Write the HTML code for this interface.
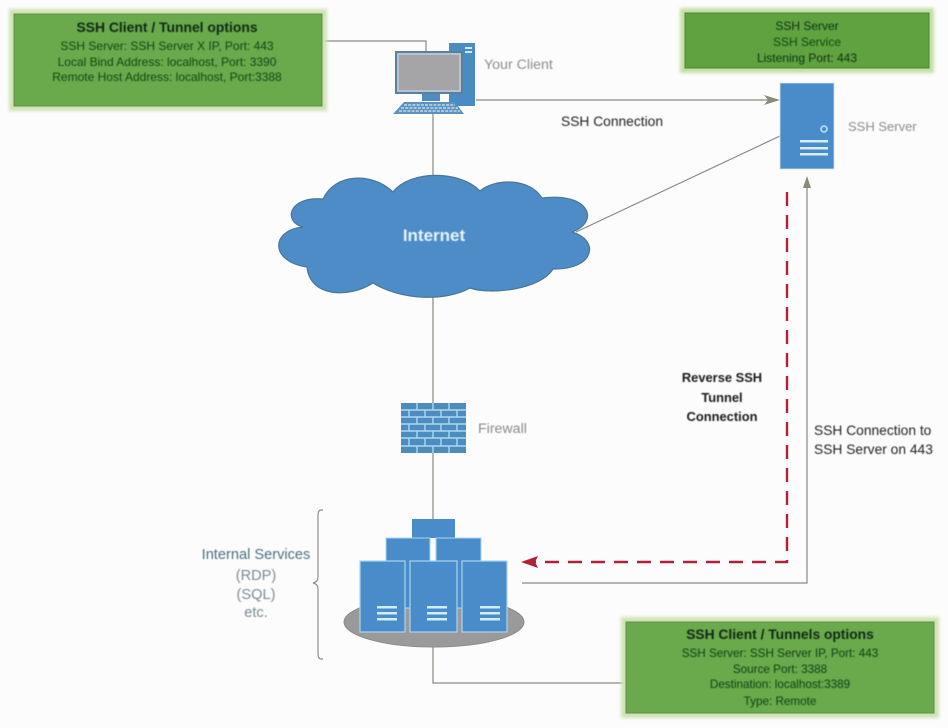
<!DOCTYPE html>
<html>
<head>
<meta charset="utf-8">
<style>
html,body{margin:0;padding:0;background:#fcfcfc;}
svg{display:block;}
text{font-family:"Liberation Sans",sans-serif;}
</style>
</head>
<body>
<svg width="948" height="728" viewBox="0 0 948 728" xmlns="http://www.w3.org/2000/svg">
<defs>
<filter id="g" x="-10%" y="-20%" width="120%" height="140%"><feGaussianBlur stdDeviation="1.6"/></filter>
<filter id="s"><feGaussianBlur stdDeviation="0.4"/></filter>
</defs>
<rect width="948" height="728" fill="#fcfcfc"/>

<!-- connectors -->
<g fill="none" stroke="#8a8a80" stroke-width="1.2">
<path d="M322 41H426V52"/>
<path d="M433 114V520"/>
<path d="M476 100H770"/>
<path d="M780 136L576 232"/>
<path d="M807 180V583H522"/>
<path d="M433 646V683H626"/>
<path d="M323 510H321Q318 510 318 516V577Q318 582 313 583Q318 584 318 589V653Q318 659 321 659H323" stroke="#8f8f8f"/>
</g>
<polygon points="780,100 764,95 768,100 764,105" fill="#8a8a78"/>
<polygon points="807,176 803,188 811,188" fill="#8a8a78"/>
<path d="M787 192V562H532" fill="none" stroke="#b0203c" stroke-width="2.4" stroke-dasharray="14 9"/>
<polygon points="521,562 538,556 535,562 538,568" fill="#b51f38"/>

<!-- green boxes -->
<g>
<rect x="9" y="9" width="318" height="102" fill="#cfe3b4" filter="url(#g)"/>
<rect x="14" y="14" width="308" height="92" fill="#6aa94c" stroke="#5f8f4a"/>
<rect x="680" y="8" width="254" height="65" fill="#c4dfa4" filter="url(#g)"/>
<rect x="685" y="13" width="244" height="55" fill="#5fa23f" stroke="#4f8436"/>
<rect x="621" y="617" width="318" height="101" fill="#cfe3b4" filter="url(#g)"/>
<rect x="626" y="622" width="308" height="91" fill="#6aa94c" stroke="#5f8f4a"/>
</g>

<g filter="url(#s)" text-anchor="middle">
<text x="167" y="32" font-size="13.9" font-weight="bold" fill="#0e2c16">SSH Client / Tunnel options</text>
<g font-size="12" fill="#124a14">
<text x="167" y="50">SSH Server: SSH Server X IP, Port: 443</text>
<text x="167" y="66">Local Bind Address: localhost, Port: 3390</text>
<text x="167" y="81">Remote Host Address: localhost, Port:3388</text>
</g>
<text x="807" y="30" font-size="12" fill="#0f3315">SSH Server</text>
<text x="807" y="46" font-size="12" fill="#124a14">SSH Service</text>
<text x="807" y="62" font-size="12" fill="#0f3315">Listening Port: 443</text>
<text x="780" y="639" font-size="13.8" font-weight="bold" fill="#0e2c16">SSH Client / Tunnels options</text>
<g font-size="11.7" fill="#124214">
<text x="780" y="657">SSH Server: SSH Server IP, Port: 443</text>
<text x="780" y="673">Source Port: 3388</text>
<text x="780" y="688">Destination: localhost:3389</text>
<text x="780" y="705">Type: Remote</text>
</g>
</g>

<!-- client -->
<rect x="449" y="43" width="26" height="63" fill="#4a8bc4"/>
<rect x="465" y="47" width="7" height="2" fill="#cfe6f5"/>
<rect x="465" y="51" width="7" height="2" fill="#cfe6f5"/>
<rect x="396" y="52" width="66" height="41" fill="#a7a9ab" stroke="#5c7f9c" stroke-width="2"/>
<rect x="398" y="54" width="62" height="37" fill="#a5a5a7" stroke="#bcd9ec" stroke-width="1.2"/>
<rect x="422" y="94" width="18" height="7" fill="#4f8cc0"/>
<polygon points="404,102 455,102 464,114 393,114" fill="#5b92bf"/>
<g stroke="#d6e9f4" stroke-width="1.3" stroke-dasharray="3 1.2">
<path d="M404 105H455"/><path d="M401 108H458"/><path d="M399 111H460"/>
</g>
<g filter="url(#s)" fill="#8a8d8d">
<text x="484" y="69" font-size="14.2">Your Client</text>
<text x="848" y="131" font-size="13">SSH Server</text>
<text x="478" y="433" font-size="14.2">Firewall</text>
</g>

<!-- server -->
<rect x="780" y="83" width="54" height="86" fill="#4a8bc9" stroke="#cfe5f5" stroke-width="0.8"/>
<circle cx="824" cy="129" r="3" fill="#4a8bc9" stroke="#b5e0f5" stroke-width="1.6"/>
<g fill="#d6eefa">
<rect x="800" y="140" width="28" height="2.5"/>
<rect x="800" y="147" width="28" height="2.5"/>
<rect x="800" y="153" width="28" height="2.5"/>
</g>

<!-- cloud -->
<path d="M303 227C283 222 288 196 323 199C335 173 372 172 393 192C410 170 460 170 480 191C495 178 530 178 542 198C590 192 600 222 572 232C600 240 595 270 553 269C540 290 490 295 470 288C445 302 400 300 373 283C350 298 310 298 307 267C270 262 270 230 303 227Z" fill="#4e8cc8" stroke="#4a7797" stroke-width="1.2"/>
<text x="434" y="241" text-anchor="middle" font-size="17" font-weight="bold" fill="#e6f5fb" filter="url(#s)">Internet</text>

<!-- firewall -->
<rect x="401" y="403" width="65" height="50" fill="#4d8cbd"/>
<g stroke="#a9d8f3" stroke-width="1.4" fill="none">
<path d="M401 410H466M401 417H466M401 424H466M401 431H466M401 438H466M401 446H466"/>
<path d="M417 403V410M433 403V410M449 403V410M409 410V417M425 410V417M441 410V417M457 410V417M417 417V424M433 417V424M449 417V424M409 424V431M425 424V431M441 424V431M457 424V431M417 431V438M433 431V438M449 431V438M409 438V446M425 438V446M441 438V446M457 438V446M417 446V453M433 446V453M449 446V453"/>
</g>

<!-- server group -->
<ellipse cx="434" cy="622" rx="90" ry="25" fill="#9a9a9a" stroke="#8a8a8a"/>
<g fill="#4a8bc9">
<rect x="412" y="519" width="43" height="19"/>
</g>
<g fill="#4a8bc9" stroke="#a8d5f0" stroke-width="1">
<rect x="386" y="538" width="44" height="70"/>
<rect x="436" y="538" width="45" height="70"/>
</g>
<g fill="#4a8bc9" stroke="#a8d5f0" stroke-width="1.2">
<rect x="360" y="561" width="45" height="71"/>
<rect x="410" y="561" width="47" height="71"/>
<rect x="462" y="561" width="45" height="71"/>
</g>
<g fill="#cfeefa">
<rect x="377" y="606" width="20" height="2.5"/><rect x="377" y="612" width="20" height="2.5"/><rect x="377" y="618" width="20" height="2.5"/>
<rect x="427" y="606" width="20" height="2.5"/><rect x="427" y="612" width="20" height="2.5"/><rect x="427" y="618" width="20" height="2.5"/>
<rect x="480" y="606" width="20" height="2.5"/><rect x="480" y="612" width="20" height="2.5"/><rect x="480" y="618" width="20" height="2.5"/>
</g>

<!-- labels -->
<g filter="url(#s)" text-anchor="middle">
<text x="256" y="559" font-size="14.6" fill="#4a6f80">Internal Services</text>
<g font-size="14.6" fill="#7a8a92">
<text x="256" y="580">(RDP)</text>
<text x="256" y="599">(SQL)</text>
<text x="256" y="617">etc.</text>
</g>
<text x="722" y="382" font-size="12.9" font-weight="bold" fill="#1a1a1a">Reverse SSH</text>
<text x="722" y="402" font-size="12.9" font-weight="bold" fill="#1a1a1a">Tunnel</text>
<text x="722" y="421" font-size="12.9" font-weight="bold" fill="#1a1a1a">Connection</text>
</g>
<g font-size="13.8" fill="#222" filter="url(#s)">
<text x="561" y="126">SSH Connection</text>
<text x="814" y="435">SSH Connection to</text>
<text x="814" y="454">SSH Server on 443</text>
</g>
</svg>
</body>
</html>
